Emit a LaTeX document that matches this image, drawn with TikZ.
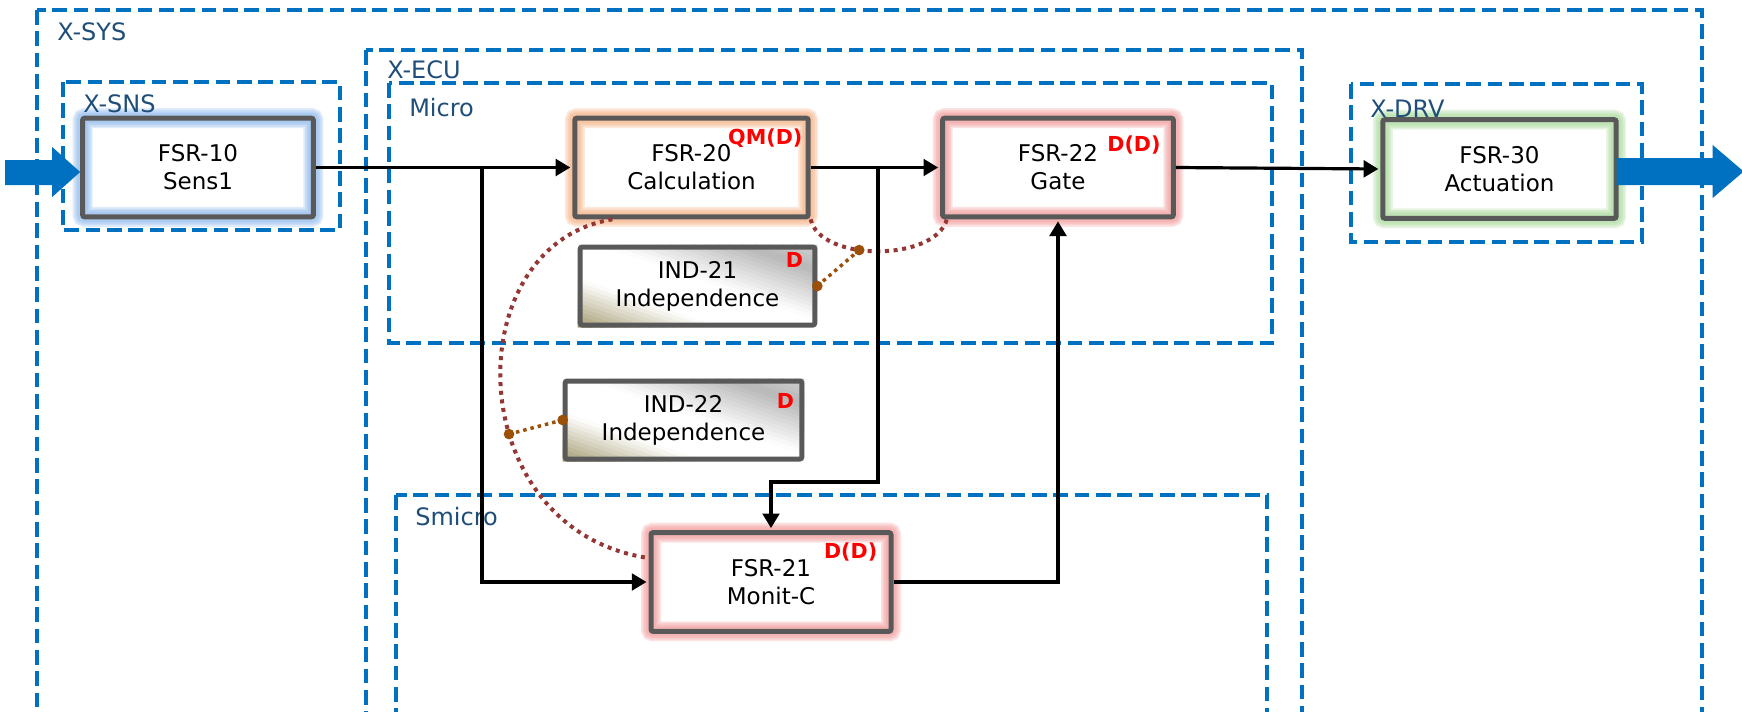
\documentclass[tikz,border=0pt]{standalone}
\usepackage{fontspec}
\setmainfont{DejaVu Sans}
\usetikzlibrary{arrows.meta,calc,backgrounds}

\definecolor{grpblue}{HTML}{0070C0}
\definecolor{lblblue}{HTML}{1F4E79}
\definecolor{boxgray}{HTML}{595959}
\definecolor{linkred}{HTML}{943634}
\definecolor{linkbrown}{HTML}{9C4F06}
\definecolor{tagred}{HTML}{FF0000}
\definecolor{glowblue}{HTML}{8DB8EC}
\definecolor{gloworange}{HTML}{F4B183}
\definecolor{glowred}{HTML}{F29A9A}
\definecolor{glowgreen}{HTML}{A9D99A}
\definecolor{tanshade}{HTML}{A39A70}
\definecolor{steelshade}{HTML}{B8B8B8}
\definecolor{steellight}{HTML}{D2D2D2}

% diagonal fill of an independence block: tan corner, white band, grey corner,
% built from thin stripes parallel to the block's falling diagonal
\newcommand\indfill[1]{%
  \begin{scope}
    \clip (#1.south west) rectangle (#1.north east);
    \begin{scope}[x={($(#1.south east)-(#1.south west)$)},
                  y={($(#1.north west)-(#1.south west)$)},
                  shift={(#1.south west)}]
      \foreach \k in {0,...,11}{
        \pgfmathsetmacro\stA{0.05*\k}
        \pgfmathsetmacro\stB{0.05*\k+0.06}
        \pgfmathtruncatemacro\pct{100-(\k+0.5)*100/12}
        \fill[tanshade!\pct!white] (\stA,0) -- (\stB,0) -- (\stB-1,1) -- (\stA-1,1) -- cycle;
      }
      \fill[white] (0.6,0) -- (1.09,0) -- (0.09,1) -- (-0.4,1) -- cycle;
      \foreach \k in {0,...,11}{
        \pgfmathsetmacro\stA{1.08+0.05*\k}
        \pgfmathsetmacro\stB{1.08+0.05*\k+0.06}
        \pgfmathtruncatemacro\pct{(\k+0.5)*100/12}
        \fill[steelshade!\pct!white] (\stA,0) -- (\stB,0) -- (\stB-1,1) -- (\stA-1,1) -- cycle;
      }
      \foreach \k in {0,...,5}{
        \pgfmathsetmacro\stA{1.68+0.055*\k}
        \pgfmathsetmacro\stB{1.68+0.055*\k+0.07}
        \pgfmathtruncatemacro\pct{(\k+0.5)*100/6}
        \fill[steellight!\pct!steelshade] (\stA,0) -- (\stB,0) -- (\stB-1,1) -- (\stA-1,1) -- cycle;
      }
    \end{scope}
  \end{scope}}

\tikzset{
  grp/.style={draw=grpblue, line width=3.3pt, dash pattern=on 11pt off 5pt},
  grplabel/.style={anchor=west, inner sep=0pt, text=lblblue,
    font=\fontsize{18}{20}\selectfont},
  fsr/.style={draw=boxgray, line width=3.75pt, rounded corners=1.5pt, align=center,
    minimum width=173pt, minimum height=74pt, inner sep=0pt,
    font=\fontsize{17.25}{21}\selectfont,
    preaction={fill=white},
    preaction={draw=#1, line width=15pt, draw opacity=0.28},
    preaction={draw=#1, line width=12.5pt, draw opacity=0.28},
    preaction={draw=#1, line width=10pt, draw opacity=0.28},
    preaction={draw=#1, line width=7.5pt, draw opacity=0.3}},
  ind/.style={draw=boxgray, line width=3.75pt, rounded corners=1.5pt, align=center,
    minimum width=176pt, minimum height=58.5pt, inner sep=0pt,
    font=\fontsize{17.25}{21}\selectfont},
  tag/.style={inner sep=0pt, text=tagred,
    font=\bfseries\fontsize{15.5}{17}\selectfont},
  conn/.style={draw=black, line width=2.4pt},
  arr/.style={conn, -{Triangle[length=11pt,width=12.5pt]}, shorten >=1.5pt},
  sep/.style={draw=linkred, line width=3pt, dash pattern=on 3pt off 3.5pt},
  indlink/.style={draw=linkbrown, line width=2.6pt, dash pattern=on 2.6pt off 3pt},
  joint/.style={circle, fill=linkbrown, inner sep=0pt, minimum size=8pt},
  flow/.style={fill=grpblue},
}

\begin{document}
\begin{tikzpicture}[x=0.75pt, y=-0.75pt]
\useasboundingbox (0,0) rectangle (1742,711);
\clip (0,0) rectangle (1742,711);

% dashed containers
\draw[grp] (37,10) rectangle (1702,760);
\draw[grp] (63,82) rectangle (340,230);
\draw[grp] (366,50) rectangle (1302,760);
\draw[grp] (389,83) rectangle (1272,343);
\draw[grp] (396,495) rectangle (1267,760);
\draw[grp] (1351,84) rectangle (1642,242);

% requirement blocks
\node[fsr=glowblue] (f10) at (198,167.5) {FSR-10\\Sens1};
\node[fsr=gloworange, minimum width=175pt] (f20) at (691.5,167.5) {FSR-20\\Calculation};
\node[fsr=glowred] (f22) at (1058,167.5) {FSR-22\\Gate};
\node[fsr=glowgreen, minimum width=175pt] (f30) at (1499.5,169) {FSR-30\\Actuation};
\node[fsr=glowred, minimum width=180pt] (f21) at (771,582) {FSR-21\\Monit-C};

% independence blocks
\node[ind] (i21) at (697.5,286) {IND-21\\Independence};
\node[ind, minimum width=177.5pt] (i22) at (683.5,420) {IND-22\\Independence};
\begin{pgfonlayer}{background}
  \indfill{i21}
  \indfill{i22}
\end{pgfonlayer}

% container names
\node[grplabel] (lsys) at (57,32) {X-SYS};
\node[grplabel] (lsns) at (83,104) {X-SNS};
\node[grplabel] (lecu) at (387,70) {X-ECU};
\node[grplabel] (lmic) at (409,108) {Micro};
\node[grplabel] (lsmi) at (415,517) {Smicro};
\node[grplabel] (ldrv) at (1370,109) {X-DRV};

% integrity tags
\node[tag, anchor=east] (t20) at ([shift={(-8,22)}]f20.north east) {QM(D)};
\node[tag, anchor=east] (t22) at ([shift={(-15,29)}]f22.north east) {D(D)};
\node[tag, anchor=east] (t21) at ([shift={(-16,22)}]f21.north east) {D(D)};
\node[tag] (ti21) at ([shift={(-23,15)}]i21.north east) {D};
\node[tag] (ti22) at ([shift={(-19,22)}]i22.north east) {D};

% freedom-from-interference links
\draw[sep] (f20.south east) .. controls (820,262) and (935,262) ..
  coordinate[pos=0.4] (m1) ([xshift=5pt]f22.south west);
\draw[sep] ([xshift=30pt]f20.south west) .. controls (455,245) and (460,530) ..
  coordinate[pos=0.6] (m2) ([yshift=18pt]f21.west);
\draw[indlink] (i21.east) -- (m1);
\draw[indlink] (i22.west) -- (m2);
\node[joint] (j1a) at (i21.east) {};
\node[joint] (j1b) at (m1) {};
\node[joint] (j2a) at (i22.west) {};
\node[joint] (j2b) at (m2) {};

% signal flow
\coordinate (s1) at (482,167.5);
\coordinate (s2) at (878,167.5);
\coordinate (k2) at (878,482);
\draw[arr] (f10.east) -- (f20.west);
\draw[arr] (s1) |- (f21.west);
\draw[arr] (f20.east) -- (f22.west);
\draw[arr] (s2) -- (k2) -| (f21.north);
\draw[arr] (f21.east) -| (f22.south);
\draw[arr] (f22.east) -- (f30.west);

% system input and output
\fill[flow] (f10.west) ++(0,4.5) coordinate (tipin) -- ++(-28,-25) -- ++(0,13)
  -- ++(-47,0) -- ++(0,25) -- ++(47,0) -- ++(0,12) -- cycle;
\fill[flow] (f30.east) ++(-2,-11) coordinate (tailout) -- ++(96,0) -- ++(0,-13)
  -- ++(31,26.5) -- ++(-31,26.5) -- ++(0,-13) -- ++(-96,0) -- cycle;
\end{tikzpicture}
\end{document}
